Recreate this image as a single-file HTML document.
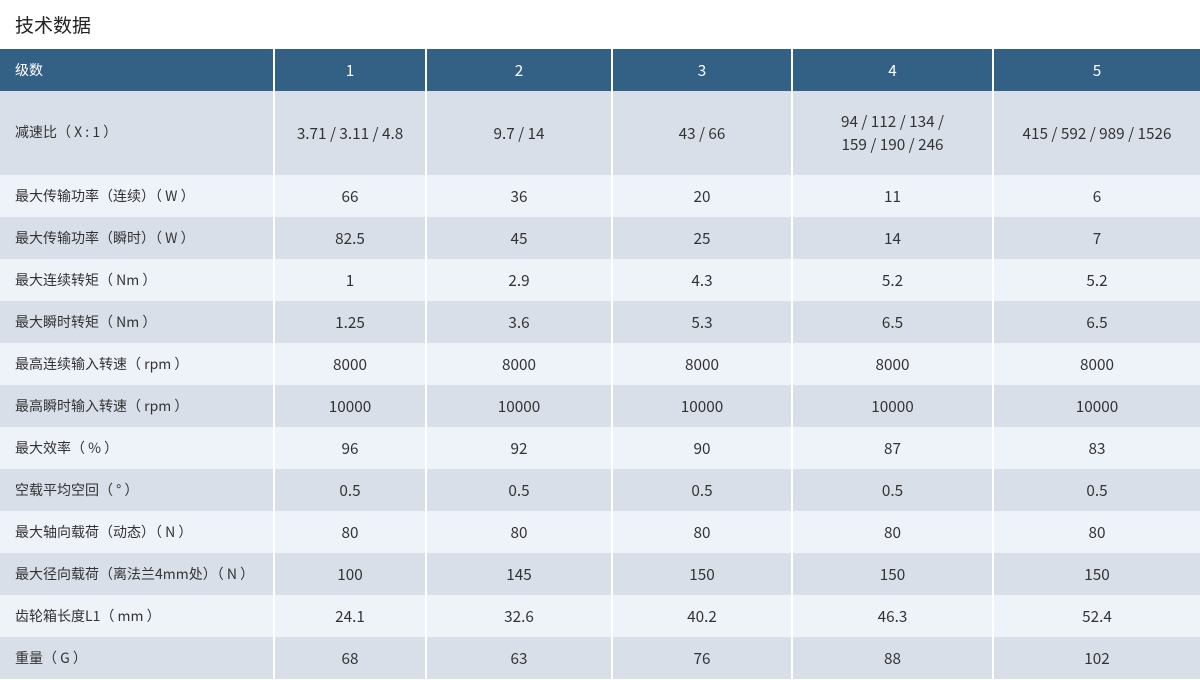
<!DOCTYPE html>
<html><head><meta charset="utf-8"><style>
*{margin:0;padding:0;box-sizing:border-box}
body{width:1200px;height:680px;background:#fff;position:relative;overflow:hidden;font-family:"Noto Sans CJK SC","Liberation Sans",sans-serif;color:#333}
.t{position:absolute;left:15px;top:12px;font-size:19px;line-height:26px;color:#222}
.r{position:absolute;left:0;width:1200px;height:42px;font-size:15.3px}
.r div{position:absolute;top:0;height:100%;display:flex;align-items:center;justify-content:center;text-align:center;line-height:23px}
.r div.l{justify-content:flex-start;padding-left:15px;text-align:left;font-size:14px}
.h{background:#336186;color:#fff}
.g{background:#d9dfe9}
.w{background:#eef2f9}
.c0{left:0;width:273px}.c1{left:275px;width:150px}.c2{left:427px;width:184px}.c3{left:613px;width:178px}.c4{left:793px;width:199px}.c5{left:994px;width:206px}
.vl{position:absolute;top:49px;width:2px;height:631px;background:#fff}
</style></head><body>
<div class="t">技术数据</div>
<div class="r h" style="top:49px"><div class="c0 l">级数</div><div class="c1">1</div><div class="c2">2</div><div class="c3">3</div><div class="c4">4</div><div class="c5">5</div></div>
<div class="r g" style="top:91px;height:84px"><div class="c0 l" style="align-items:flex-start;padding-top:30px">减速比（ X : 1 ）</div><div class="c1">3.71 / 3.11 / 4.8</div><div class="c2">9.7 / 14</div><div class="c3">43 / 66</div><div class="c4">94 / 112 / 134 /<br>159 / 190 / 246</div><div class="c5">415 / 592 / 989 / 1526</div></div>
<div class="r w" style="top:175px"><div class="c0 l">最大传输功率（连续）（ W ）</div><div class="c1">66</div><div class="c2">36</div><div class="c3">20</div><div class="c4">11</div><div class="c5">6</div></div>
<div class="r g" style="top:217px"><div class="c0 l">最大传输功率（瞬时）（ W ）</div><div class="c1">82.5</div><div class="c2">45</div><div class="c3">25</div><div class="c4">14</div><div class="c5">7</div></div>
<div class="r w" style="top:259px"><div class="c0 l">最大连续转矩（ Nm ）</div><div class="c1">1</div><div class="c2">2.9</div><div class="c3">4.3</div><div class="c4">5.2</div><div class="c5">5.2</div></div>
<div class="r g" style="top:301px"><div class="c0 l">最大瞬时转矩（ Nm ）</div><div class="c1">1.25</div><div class="c2">3.6</div><div class="c3">5.3</div><div class="c4">6.5</div><div class="c5">6.5</div></div>
<div class="r w" style="top:343px"><div class="c0 l">最高连续输入转速（ rpm ）</div><div class="c1">8000</div><div class="c2">8000</div><div class="c3">8000</div><div class="c4">8000</div><div class="c5">8000</div></div>
<div class="r g" style="top:385px"><div class="c0 l">最高瞬时输入转速（ rpm ）</div><div class="c1">10000</div><div class="c2">10000</div><div class="c3">10000</div><div class="c4">10000</div><div class="c5">10000</div></div>
<div class="r w" style="top:427px"><div class="c0 l">最大效率（ % ）</div><div class="c1">96</div><div class="c2">92</div><div class="c3">90</div><div class="c4">87</div><div class="c5">83</div></div>
<div class="r g" style="top:469px"><div class="c0 l">空载平均空回（ ° ）</div><div class="c1">0.5</div><div class="c2">0.5</div><div class="c3">0.5</div><div class="c4">0.5</div><div class="c5">0.5</div></div>
<div class="r w" style="top:511px"><div class="c0 l">最大轴向载荷（动态）（ N ）</div><div class="c1">80</div><div class="c2">80</div><div class="c3">80</div><div class="c4">80</div><div class="c5">80</div></div>
<div class="r g" style="top:553px"><div class="c0 l">最大径向载荷（离法兰4mm处）（ N ）</div><div class="c1">100</div><div class="c2">145</div><div class="c3">150</div><div class="c4">150</div><div class="c5">150</div></div>
<div class="r w" style="top:595px"><div class="c0 l">齿轮箱长度L1（ mm ）</div><div class="c1">24.1</div><div class="c2">32.6</div><div class="c3">40.2</div><div class="c4">46.3</div><div class="c5">52.4</div></div>
<div class="r g" style="top:637px"><div class="c0 l">重量（ G ）</div><div class="c1">68</div><div class="c2">63</div><div class="c3">76</div><div class="c4">88</div><div class="c5">102</div></div>
<div class="vl" style="left:273px"></div><div class="vl" style="left:425px"></div><div class="vl" style="left:611px"></div><div class="vl" style="left:791px"></div><div class="vl" style="left:992px"></div>
</body></html>
